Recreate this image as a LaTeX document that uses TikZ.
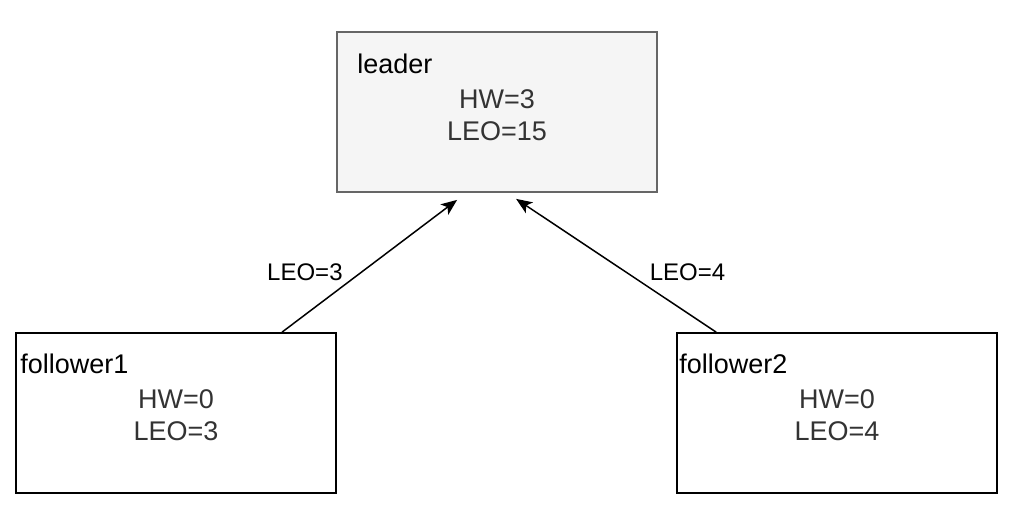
\documentclass[tikz,border=0pt]{standalone}
\usepackage{fontspec}
\setmainfont{Liberation Sans}
\usetikzlibrary{arrows.meta}
\definecolor{boxgray}{HTML}{F5F5F5}
\definecolor{edgegray}{HTML}{666666}
\definecolor{txtgray}{HTML}{333333}

\begin{document}
\begin{tikzpicture}[
    x=1pt,
    y=-1pt,
    broker/.style={draw, line width=1.8pt, minimum width=320pt, minimum height=160pt, inner sep=0pt},
    leaderbox/.style={broker, draw=edgegray, fill=boxgray},
    followerbox/.style={broker, draw=black, fill=white},
    stat/.style={inner sep=0pt, align=center, text=txtgray, font=\fontsize{27}{32}\selectfont},
    role/.style={anchor=base west, inner sep=0pt, font=\fontsize{27}{32}\selectfont},
    fetch/.style={-{Stealth[length=16pt,width=13pt,inset=4pt]}, line width=1.5pt},
    lab/.style={inner sep=0pt, font=\fontsize{24}{28}\selectfont}
  ]
    \useasboundingbox (0,0) rectangle (1028,528);
    \node[leaderbox] (leader) at (497,112) {};
    \node[followerbox] (f1) at (176,413) {};
    \node[followerbox] (f2) at (837,413) {};
    \node[stat] (leaderstat) at ([shift={(0,3)}]leader.center) {HW=3\\LEO=15};
    \node[stat] (f1stat) at ([shift={(0,2)}]f1.center) {HW=0\\LEO=3};
    \node[stat] (f2stat) at ([shift={(0,2)}]f2.center) {HW=0\\LEO=4};
    \node[role] (leadername) at ([shift={(21,42)}]leader.north west) {leader};
    \node[role] (f1name) at ([shift={(5,41)}]f1.north west) {follower1};
    \node[role] (f2name) at ([shift={(3,41)}]f2.north west) {follower2};
    \coordinate (f1out) at ([xshift=267]f1.north west);
    \coordinate (f2out) at ([xshift=40]f2.north west);
    \coordinate (in1) at ([shift={(121,7)}]leader.south west);
    \coordinate (in2) at ([shift={(180,6)}]leader.south west);
    \draw[fetch] (f1out) -- node[lab, pos=0.45, left=17.5pt] {LEO=3} (in1);
    \draw[fetch] (f2out) -- node[lab, pos=0.45, right=23pt] {LEO=4} (in2);
  \end{tikzpicture}
\end{document}
